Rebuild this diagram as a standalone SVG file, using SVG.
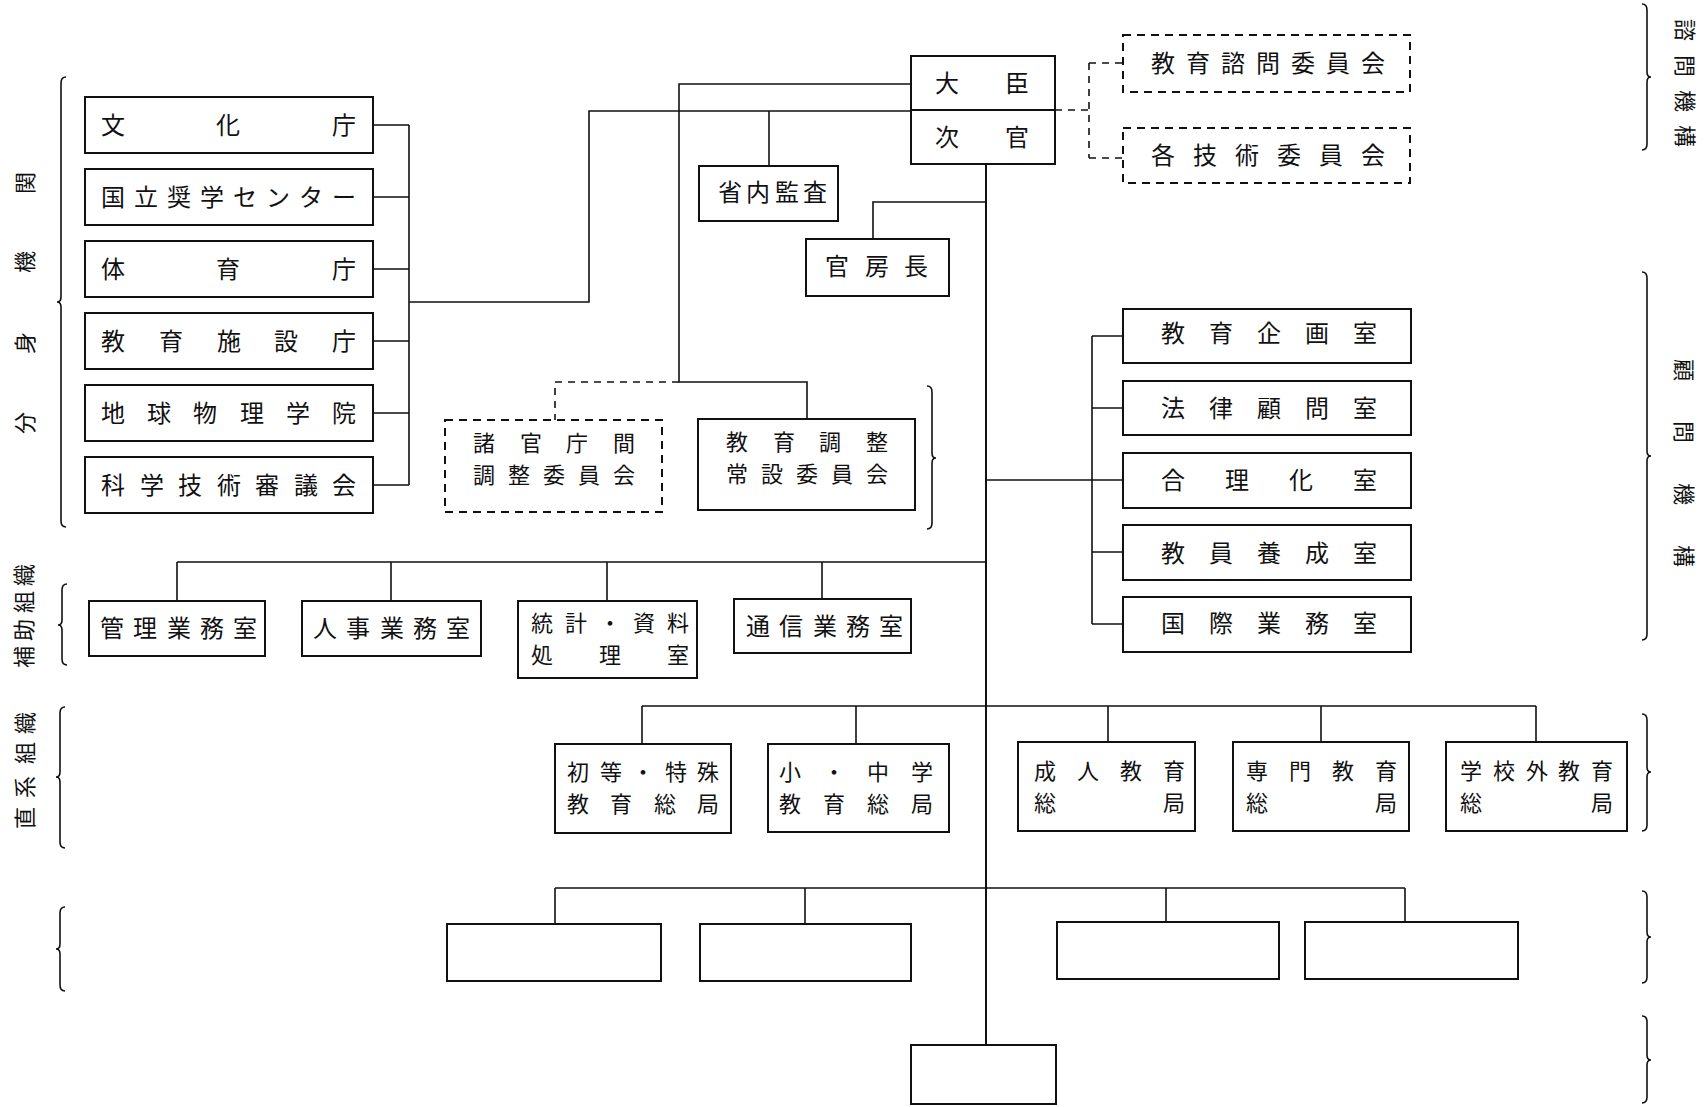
<svg xmlns="http://www.w3.org/2000/svg" width="1704" height="1107" viewBox="0 0 1704 1107">
<style>
.bg{fill:#ffffff}
.box{fill:#ffffff;stroke:#111;stroke-width:2}
.dbox{fill:#ffffff;stroke:#111;stroke-width:2;stroke-dasharray:8 6}
.ln{fill:none;stroke:#111;stroke-width:1.6}
.dln{fill:none;stroke:#111;stroke-width:1.6;stroke-dasharray:7 6}
.br{fill:none;stroke:#111;stroke-width:1.6}
.t{font-family:"Noto Sans CJK JP","Noto Sans CJK SC",sans-serif;font-size:24px;text-anchor:middle;fill:#111}
.t2{font-family:"Noto Sans CJK JP","Noto Sans CJK SC",sans-serif;font-size:22px;text-anchor:middle;fill:#111}
.s{font-family:"Noto Sans CJK JP","Noto Sans CJK SC",sans-serif;font-size:22px;text-anchor:middle;fill:#111}
</style>
<rect class="bg" x="0" y="0" width="1704" height="1107"/>

<g id="connectors">
  <path class="ln" d="M373 125H409M373 197H409M373 269H409M373 341H409M373 413H409M373 485H409M409 125V485M409 302H589V111H911"/>
  <path class="ln" d="M911 84H679V382H807V419"/>
  <path class="dln" d="M679 382H555V420"/>
  <path class="ln" d="M769 111V166"/>
  <path class="ln" d="M986 164V1045" style="stroke-width:2"/>
  <path class="ln" d="M873 239V202H986"/>
  <path class="dln" d="M1055 110H1089M1089 63V158M1089 63H1123M1089 158H1123"/>
  <path class="ln" d="M986 480H1123M1092 336V624M1092 336H1123M1092 408H1123M1092 552H1123M1092 624H1123"/>
  <path class="ln" d="M177 562H986M177 562V601M391 562V601M607 562V601M822 562V599"/>
  <path class="ln" d="M642 706H1536M642 706V744M856 706V744M1108 706V742M1321 706V742M1536 706V742"/>
  <path class="ln" d="M555 888H1405M555 888V924M805 888V924M1166 888V922M1405 888V922"/>
</g>

<g id="brackets">
  <path class="br" d="M66 77Q61 77 61 83V297Q61 302 57 302Q61 302 61 307V521Q61 527 66 527"/>
  <path class="br" d="M67 584Q62 584 62 590V620Q62 625 58 625Q62 625 62 630V659Q62 665 67 665"/>
  <path class="br" d="M65 707Q60 707 60 713V772Q60 777 56 777Q60 777 60 782V842Q60 848 65 848"/>
  <path class="br" d="M65 907Q60 907 60 913V944Q60 949 56 949Q60 949 60 954V985Q60 991 65 991"/>
  <path class="br" d="M927 386Q932 386 932 392V453Q932 458 936 458Q932 458 932 463V523Q932 529 927 529"/>
  <path class="br" d="M1642 4Q1647 4 1647 10V72Q1647 77 1651 77Q1647 77 1647 82V144Q1647 150 1642 150"/>
  <path class="br" d="M1642 272Q1647 272 1647 278V451Q1647 456 1651 456Q1647 456 1647 461V634Q1647 640 1642 640"/>
  <path class="br" d="M1642 714Q1647 714 1647 720V767Q1647 772 1651 772Q1647 772 1647 777V825Q1647 831 1642 831"/>
  <path class="br" d="M1642 891Q1647 891 1647 897V932Q1647 937 1651 937Q1647 937 1647 942V977Q1647 983 1642 983"/>
  <path class="br" d="M1642 1016Q1647 1016 1647 1022V1055Q1647 1060 1651 1060Q1647 1060 1647 1065V1097Q1647 1103 1642 1103"/>
</g>

<g id="labels">
  <text class="s" transform="translate(25 303) rotate(-90)" x="-120 -40 41 120" y="8">分身機関</text>
  <text class="s" transform="translate(24 616) rotate(-90)" x="-41 -14 14 41" y="8">補助組織</text>
  <text class="s" transform="translate(25 770) rotate(-90)" x="-48 -17 17 47" y="8">直系組織</text>
  <text class="s" transform="translate(1685 83) rotate(90)" x="-53 -17 18 53" y="8">諮問機構</text>
  <text class="s" transform="translate(1684 463) rotate(90)" x="-93 -31 31 93" y="8">顧問機構</text>
</g>

<g id="n-bunka"><rect class="box" x="85" y="97" width="288" height="56"/><text class="t" x="113 228 344" y="134">文化庁</text></g>
<g id="n-shogaku"><rect class="box" x="85" y="169" width="288" height="56"/><text class="t" x="113 146 179 212 245 278 311 344" y="206">国立奨学センター</text></g>
<g id="n-taiiku"><rect class="box" x="85" y="241" width="288" height="56"/><text class="t" x="113 228 344" y="278">体育庁</text></g>
<g id="n-shisetsu"><rect class="box" x="85" y="313" width="288" height="56"/><text class="t" x="113 171 229 286 344" y="350">教育施設庁</text></g>
<g id="n-chikyu"><rect class="box" x="85" y="385" width="288" height="56"/><text class="t" x="113 159 205 252 298 344" y="422">地球物理学院</text></g>
<g id="n-kagaku"><rect class="box" x="85" y="457" width="288" height="56"/><text class="t" x="113 152 190 229 267 306 344" y="494">科学技術審議会</text></g>

<g id="n-daijin"><rect class="box" x="911" y="56" width="144" height="108"/><path class="ln" d="M911 110H1055" style="stroke-width:2"/><text class="t" x="947 1017" y="92">大臣</text><text class="t" x="947 1017" y="146">次官</text></g>

<g id="n-shimon"><rect class="dbox" x="1123" y="35" width="287" height="57"/><text class="t" x="1163 1198 1233 1268 1303 1338 1373" y="72">教育諮問委員会</text></g>
<g id="n-gijutsu"><rect class="dbox" x="1123" y="128" width="287" height="55"/><text class="t" x="1163 1205 1247 1289 1331 1373" y="164">各技術委員会</text></g>

<g id="n-kansa"><rect class="box" x="699" y="166" width="139" height="55"/><text class="t" x="730 758 787 815" y="201">省内監査</text></g>
<g id="n-kanbo"><rect class="box" x="806" y="239" width="143" height="57"/><text class="t" x="837 877 916" y="275">官房長</text></g>

<g id="n-shokancho"><rect class="dbox" x="445" y="420" width="217" height="92"/><text class="t2" x="484 531 577 624" y="451">諸官庁間</text><text class="t2" x="484 519 554 589 624" y="483">調整委員会</text></g>
<g id="n-chosei"><rect class="box" x="698" y="419" width="217" height="91"/><text class="t2" x="737 784 830 877" y="450">教育調整</text><text class="t2" x="737 772 807 842 877" y="482">常設委員会</text></g>

<g id="n-kikaku"><rect class="box" x="1123" y="309" width="288" height="54"/><text class="t" x="1173 1221 1269 1317 1365" y="342">教育企画室</text></g>
<g id="n-horitsu"><rect class="box" x="1123" y="381" width="288" height="54"/><text class="t" x="1173 1221 1269 1317 1365" y="417">法律顧問室</text></g>
<g id="n-gorika"><rect class="box" x="1123" y="453" width="288" height="55"/><text class="t" x="1173 1237 1301 1365" y="489">合理化室</text></g>
<g id="n-kyoin"><rect class="box" x="1123" y="525" width="288" height="55"/><text class="t" x="1173 1221 1269 1317 1365" y="562">教員養成室</text></g>
<g id="n-kokusai"><rect class="box" x="1123" y="597" width="288" height="55"/><text class="t" x="1173 1221 1269 1317 1365" y="632">国際業務室</text></g>

<g id="n-kanri"><rect class="box" x="89" y="601" width="176" height="55"/><text class="t" x="112 145 179 212 245" y="637">管理業務室</text></g>
<g id="n-jinji"><rect class="box" x="302" y="601" width="179" height="55"/><text class="t" x="325 358 392 425 458" y="637">人事業務室</text></g>
<g id="n-tokei"><rect class="box" x="518" y="601" width="179" height="77"/><text class="t2" x="542 576 610 644 678" y="631">統計・資料</text><text class="t2" x="542 610 678" y="663">処理室</text></g>
<g id="n-tsushin"><rect class="box" x="734" y="599" width="177" height="54"/><text class="t" x="758 791 825 858 891" y="635">通信業務室</text></g>

<g id="n-shoto"><rect class="box" x="555" y="744" width="176" height="89"/><text class="t2" x="578 611 643 676 708" y="780">初等・特殊</text><text class="t2" x="578 621 665 708" y="812">教育総局</text></g>
<g id="n-shochu"><rect class="box" x="768" y="744" width="181" height="88"/><text class="t2" x="790 834 878 922" y="780">小・中学</text><text class="t2" x="790 834 878 922" y="812">教育総局</text></g>
<g id="n-seijin"><rect class="box" x="1018" y="742" width="177" height="89"/><text class="t2" x="1045 1088 1131 1174" y="779">成人教育</text><text class="t2" x="1045 1174" y="811">総局</text></g>
<g id="n-senmon"><rect class="box" x="1233" y="742" width="176" height="89"/><text class="t2" x="1257 1300 1343 1386" y="779">専門教育</text><text class="t2" x="1257 1386" y="811">総局</text></g>
<g id="n-gakkogai"><rect class="box" x="1446" y="742" width="181" height="89"/><text class="t2" x="1471 1504 1537 1569 1602" y="779">学校外教育</text><text class="t2" x="1471 1602" y="811">総局</text></g>

<g id="n-empty1"><rect class="box" x="447" y="924" width="214" height="57"/></g>
<g id="n-empty2"><rect class="box" x="700" y="924" width="211" height="57"/></g>
<g id="n-empty3"><rect class="box" x="1057" y="922" width="222" height="57"/></g>
<g id="n-empty4"><rect class="box" x="1305" y="922" width="213" height="57"/></g>
<g id="n-empty5"><rect class="box" x="911" y="1045" width="145" height="59"/></g>
</svg>
